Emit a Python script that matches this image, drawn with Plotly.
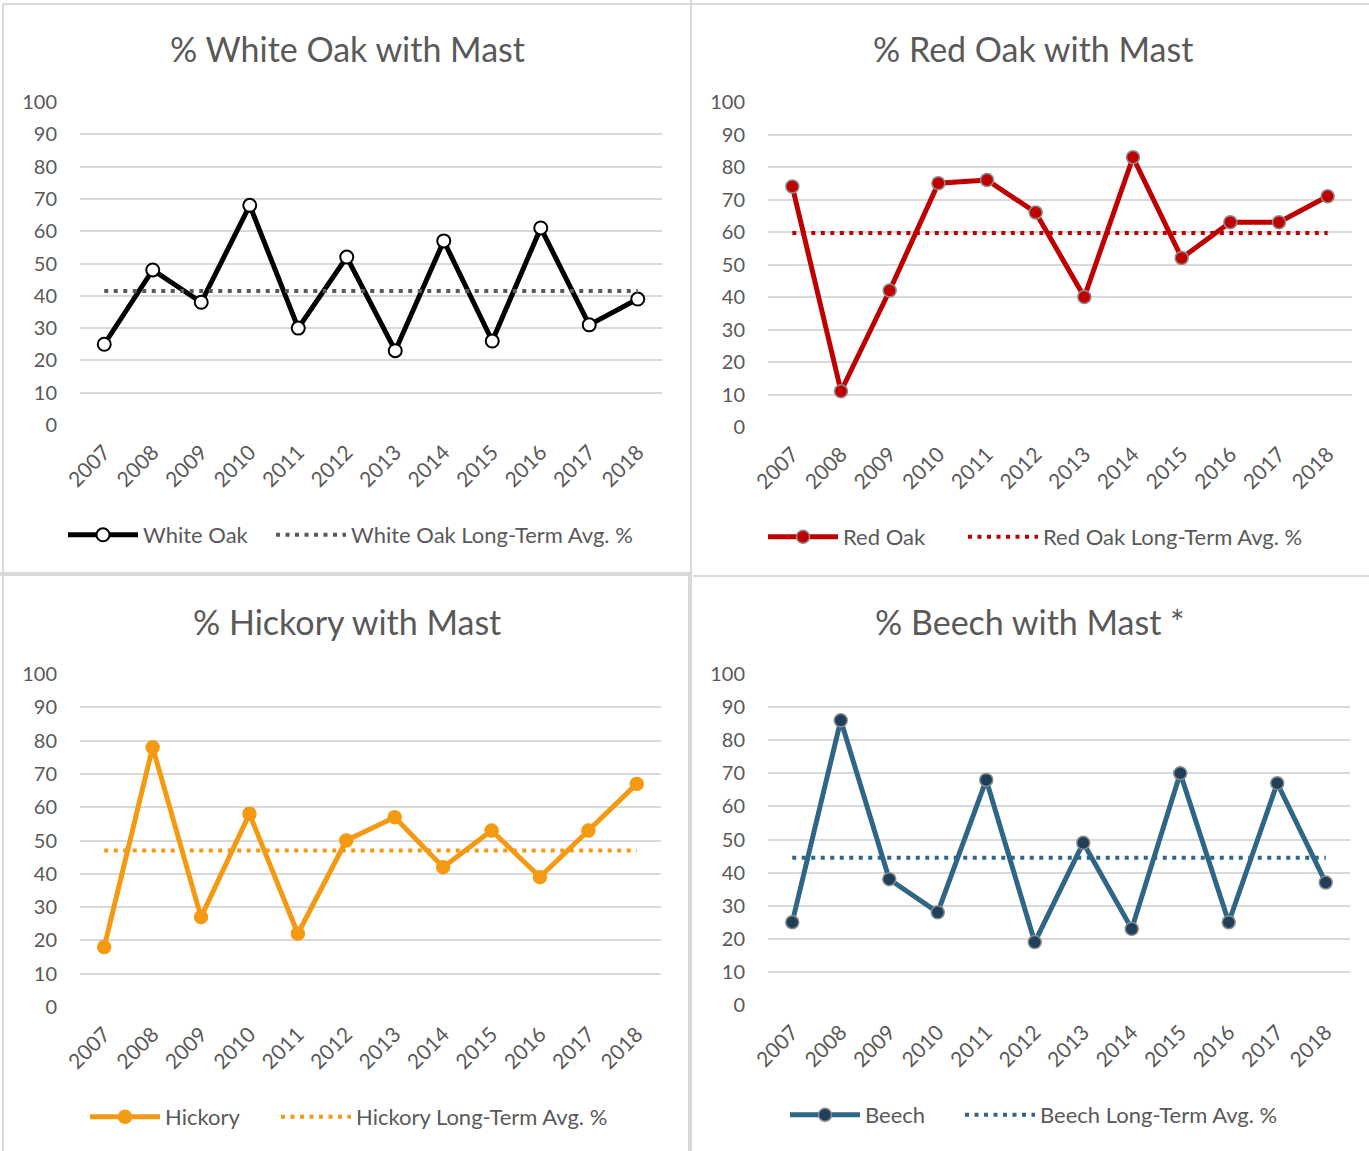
import plotly.graph_objects as go

years = ["2007", "2008", "2009", "2010", "2011", "2012", "2013", "2014", "2015", "2016", "2017", "2018"]

white_oak = [25, 48, 38, 68, 30, 52, 23, 57, 26, 61, 31, 39]
white_oak_avg = [41.5] * 12
red_oak = [74, 11, 42, 75, 76, 66, 40, 83, 52, 63, 63, 71]
red_oak_avg = [59.7] * 12
hickory = [18, 78, 27, 58, 22, 50, 57, 42, 53, 39, 53, 67]
hickory_avg = [47] * 12
beech = [25, 86, 38, 28, 68, 19, 49, 23, 70, 25, 67, 37]
beech_avg = [44.5] * 12

titles = ["% White Oak with Mast", "% Red Oak with Mast", "% Hickory with Mast", "% Beech with Mast *"]
series_names = ["White Oak", "Red Oak", "Hickory", "Beech"]
avg_names = ["White Oak Long-Term Avg. %", "Red Oak Long-Term Avg. %",
             "Hickory Long-Term Avg. %", "Beech Long-Term Avg. %"]
y_ticks = [0, 10, 20, 30, 40, 50, 60, 70, 80, 90, 100]

W, H = 1369, 1151
FONT = "Lato"
GRAY = "#595959"

# plot-area pixel boxes: (x0, x1, ytop, ybottom)
boxes = [(80, 662, 102, 425), (768, 1352, 102, 427), (80, 661, 674, 1007), (768, 1350, 674, 1005)]
title_pos = [(347, 48), (1033, 48), (347, 621), (1030, 621)]
# legend entry left edges (series, average) and vertical centre
legend_pos = [((68, 276), 535), ((768, 968), 537), ((90, 281), 1117), ((790, 965), 1115)]

data_sets = [white_oak, red_oak, hickory, beech]
avg_sets = [white_oak_avg, red_oak_avg, hickory_avg, beech_avg]
line_colors = ["#000000", "#C00000", "#F49A12", "#2F6585"]
marker_fill = ["#FFFFFF", "#C00000", "#F49A12", "#1F3F5A"]
marker_line = ["#000000", "#8C8C8C", "#F49A12", "#8C8C8C"]
avg_colors = ["#595959", "#C00000", "#F49A12", "#2F6585"]

fig = go.Figure()
layout = dict(
    width=W, height=H, margin=dict(l=0, r=0, t=0, b=0, pad=0, autoexpand=False),
    paper_bgcolor="white", plot_bgcolor="white", showlegend=True,
    font=dict(family=FONT, color=GRAY),
    annotations=[], shapes=[],
)

def px_x(x):
    return x / W

def px_y(y):
    return 1 - y / H

LEG_OFFSET = 5  # offset between legend box left and symbol start

for i in range(4):
    n = "" if i == 0 else str(i + 1)
    lgA = "legend" if i == 0 else "legend" + str(2 * i + 1)
    lgB = "legend" + str(2 * i + 2)
    x0, x1, yt, yb = boxes[i]
    fig.add_trace(go.Scatter(
        x=years, y=data_sets[i], name=series_names[i], mode="lines+markers",
        line=dict(color=line_colors[i], width=5),
        marker=dict(size=13, color=marker_fill[i], line=dict(color=marker_line[i], width=2 if i == 0 else 1.5)),
        xaxis="x" + n, yaxis="y" + n, legend=lgA, showlegend=True,
    ))
    fig.add_trace(go.Scatter(
        x=years, y=avg_sets[i], name=avg_names[i], mode="lines",
        line=dict(color=avg_colors[i], width=4, dash="4px,5.5px"),
        xaxis="x" + n, yaxis="y" + n, legend=lgB, showlegend=True,
    ))
    layout["xaxis" + n] = dict(
        domain=[px_x(x0), px_x(x1)], anchor="y" + n, type="category",
        range=[-0.5, 11.5], showgrid=False, showline=False, zeroline=False,
        tickangle=-45, tickfont=dict(family=FONT, size=21, color=GRAY),
        ticks="", ticklabelstandoff=10, fixedrange=True, automargin=False,
    )
    layout["yaxis" + n] = dict(
        domain=[px_y(yb), px_y(yt)], anchor="x" + n, range=[0, 100],
        tickvals=y_ticks, showgrid=True, gridcolor="#D9D9D9", gridwidth=2,
        showline=False, zeroline=False, tickfont=dict(family=FONT, size=20, color=GRAY),
        ticks="", ticklabelstandoff=22, fixedrange=True, automargin=False,
    )
    (xa, xb), ly = legend_pos[i]
    for lg, lx in ((lgA, xa), (lgB, xb)):
        layout[lg] = dict(
            orientation="h", x=px_x(lx - LEG_OFFSET), y=px_y(ly),
            xanchor="left", yanchor="middle", font=dict(family=FONT, size=22, color=GRAY),
            bgcolor="rgba(0,0,0,0)", itemwidth=70, borderwidth=0, visible=True,
        )
    layout["annotations"].append(dict(
        text=titles[i], x=px_x(title_pos[i][0]), y=px_y(title_pos[i][1]),
        xref="paper", yref="paper", showarrow=False, xanchor="center", yanchor="middle",
        font=dict(family=FONT, size=34, color=GRAY),
    ))

# panel borders
border = "#D9D9D9"
def line(xa, ya, xb, yb, w):
    return dict(type="line", xref="paper", yref="paper", x0=px_x(xa), y0=px_y(ya),
                x1=px_x(xb), y1=px_y(yb), line=dict(color=border, width=w), layer="below")

layout["shapes"] += [
    line(3, 4, 3, 1151, 2),
    line(3, 4, 691, 4, 2),
    line(692, 4, 1369, 4, 2),
    line(0, 574, 690, 574, 4),
    line(693, 576, 1369, 576, 2),
    line(691, 0, 691, 574, 2),
    line(690, 574, 690, 1151, 4),
]

fig.update_layout(**layout)
fig.write_html("out.html", config={"displayModeBar": False},
               post_script="document.body.style.margin='0';document.body.style.overflow='hidden';")
